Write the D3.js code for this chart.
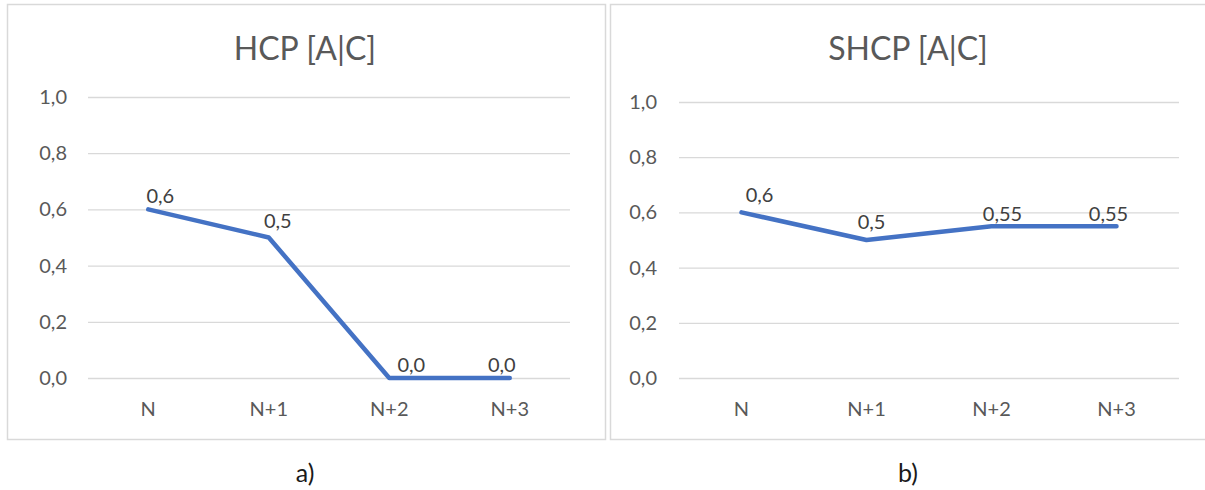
<!DOCTYPE html>
<html>
<head>
<meta charset="utf-8">
<script src="https://cdn.jsdelivr.net/npm/d3@7"></script>
<style>
  html, body { margin: 0; padding: 0; background: #ffffff; overflow: hidden; }
  svg { display: block; }
  text { font-family: Lato, "Open Sans", sans-serif; }
</style>
</head>
<body>
<svg id="chart" width="1205" height="490"></svg>
<script>
// Categories shared by both panels
const categories = ["N", "N+1", "N+2", "N+3"];

// Series values
const hcpValues  = [0.6, 0.5, 0.0, 0.0];
const shcpValues = [0.6, 0.5, 0.55, 0.55];

// Displayed value labels
const hcpLabels  = ["0,6", "0,5", "0,0", "0,0"];
const shcpLabels = ["0,6", "0,5", "0,55", "0,55"];

// Y axis ticks
const yTicks = [0, 0.2, 0.4, 0.6, 0.8, 1.0];
const yTickLabels = ["0,0", "0,2", "0,4", "0,6", "0,8", "1,0"];

// Titles and captions
const titles = ["HCP [A|C]", "SHCP [A|C]"];
const captions = ["a)", "b)"];

// Per-label nudges (dx, dy) so labels sit clear of the line
const hcpNudge  = [[12, -6], [9, -10], [22, -6], [-8, -6]];
const shcpNudge = [[18, -10], [5, -11], [11, -5], [-8, -5]];

const svg = d3.select("#chart");

const panels = [
  { frame: [7, 4, 605, 439], plot: [88, 97, 570, 378], titleX: 305, labelX: 67,
    values: hcpValues, labels: hcpLabels, nudge: hcpNudge, title: titles[0], caption: captions[0] },
  { frame: [610, 4, 1225, 439], plot: [679, 102, 1179, 378], titleX: 908, labelX: 657,
    values: shcpValues, labels: shcpLabels, nudge: shcpNudge, title: titles[1], caption: captions[1] }
];

panels.forEach(p => {
  const g = svg.append("g");
  const [fx0, fy0, fx1, fy1] = p.frame;
  const [px0, py0, px1, py1] = p.plot;

  // Chart frame
  g.append("rect")
    .attr("x", fx0 + 0.5).attr("y", fy0 + 0.5)
    .attr("width", fx1 - fx0).attr("height", fy1 - fy0)
    .attr("fill", "#ffffff").attr("stroke", "#d9d9d9").attr("stroke-width", 1.5);

  const x = d3.scaleBand().domain(categories).range([px0, px1]);
  const y = d3.scaleLinear().domain([0, 1]).range([py1, py0]);

  // Horizontal gridlines
  g.append("g")
    .attr("transform", `translate(${px0},0)`)
    .call(d3.axisLeft(y).tickValues(yTicks).tickSize(-(px1 - px0)).tickFormat(""))
    .call(a => a.select(".domain").remove())
    .call(a => a.selectAll("line").attr("stroke", "#d9d9d9").attr("stroke-width", 1.3));

  // Y tick labels
  g.append("g")
    .attr("transform", `translate(${p.labelX},0)`)
    .call(d3.axisLeft(y).tickValues(yTicks).tickSize(0).tickPadding(0)
      .tickFormat((d, i) => yTickLabels[i]))
    .call(a => a.select(".domain").remove())
    .call(a => a.selectAll("text")
      .attr("fill", "#595959").attr("font-size", 20)
      .attr("font-family", "Lato, sans-serif").attr("text-anchor", "end"));

  // Category labels
  g.append("g")
    .attr("transform", `translate(0,${py1 + 24})`)
    .call(d3.axisBottom(x).tickSize(0).tickPadding(0))
    .call(a => a.select(".domain").remove())
    .call(a => a.selectAll("text")
      .attr("fill", "#595959").attr("font-size", 20)
      .attr("font-family", "Lato, sans-serif"));

  // Series line
  const pts = categories.map((c, i) => [x(c) + x.bandwidth() / 2, y(p.values[i])]);
  g.append("path")
    .attr("d", d3.line()(pts))
    .attr("fill", "none")
    .attr("stroke", "#4472c4")
    .attr("stroke-width", 4.5)
    .attr("stroke-linejoin", "round")
    .attr("stroke-linecap", "round");

  // Value labels
  g.selectAll("text.val").data(p.values).enter().append("text")
    .attr("class", "val")
    .attr("x", (d, i) => x(categories[i]) + x.bandwidth() / 2 + p.nudge[i][0])
    .attr("y", (d, i) => y(d) + p.nudge[i][1])
    .attr("text-anchor", "middle")
    .attr("fill", "#404040")
    .attr("font-size", 20)
    .text((d, i) => p.labels[i]);

  // Title
  g.append("text")
    .attr("x", p.titleX).attr("y", 60)
    .attr("text-anchor", "middle")
    .attr("fill", "#595959")
    .attr("font-size", 32)
    .text(p.title);

  // Caption below the frame
  g.append("text")
    .attr("x", p.titleX).attr("y", 482)
    .attr("text-anchor", "middle")
    .attr("fill", "#1a1a1a")
    .attr("font-size", 25)
    .text(p.caption);
});
</script>
</body>
</html>
